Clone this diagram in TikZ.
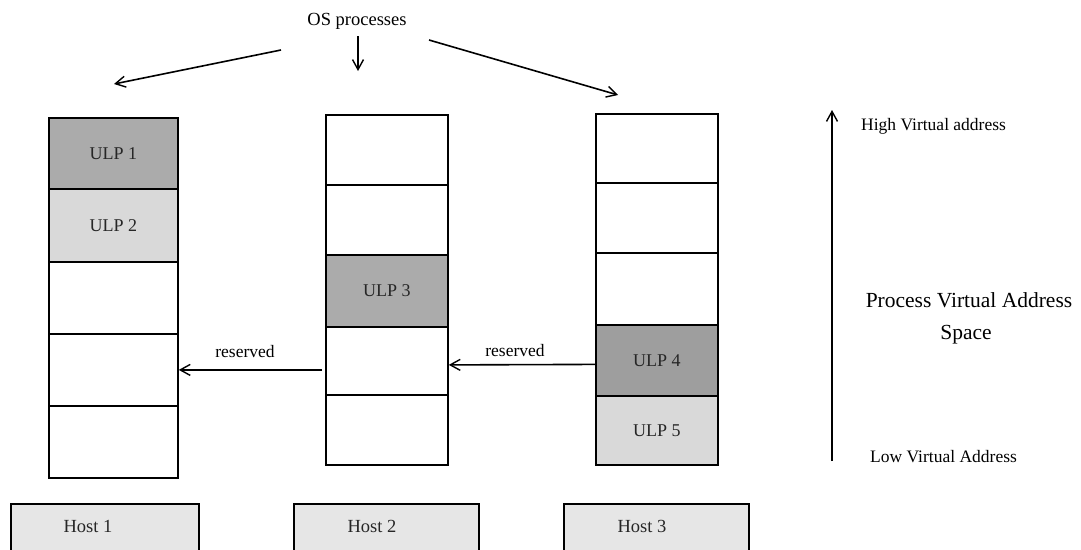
\documentclass[tikz,border=0pt]{standalone}
\usepackage{fontspec}
\setmainfont{Liberation Serif}
\usetikzlibrary{arrows.meta}
\definecolor{ulpdark}{HTML}{ABABAB}
\definecolor{ulpdarker}{HTML}{9E9E9E}
\definecolor{ulplight}{HTML}{D9D9D9}
\definecolor{hostfill}{HTML}{E6E6E6}
\tikzset{
  cellbox/.style={draw=black, line width=1.8pt, inner sep=0pt, anchor=north west,
    font=\fontsize{18}{20}\selectfont, text=black!85},
  hostbox/.style={draw=black, line width=1.8pt, fill=hostfill, inner sep=0pt, anchor=north west},
  lbl/.style={font=\fontsize{17.5}{19}\selectfont, inner sep=0pt},
  arr/.style={line width=1.6pt, -{Straight Barb[length=10pt,width=11pt,line width=1.4pt]}},
}
\begin{document}
\begin{tikzpicture}[x=1pt,y=-1pt]
\useasboundingbox (0,0) rectangle (1081,549);
\begin{scope}
\clip (0,0) rectangle (1081,549);
% column 1 (x 48-177, width 129)
\node[cellbox, fill=ulpdark, minimum width=129pt, minimum height=71pt] (c1a) at (48,117) {ULP 1};
\node[cellbox, fill=ulplight, minimum width=129pt, minimum height=73pt] (c1b) at (48,188) {ULP 2};
\node[cellbox, minimum width=129pt, minimum height=72pt] (c1c) at (48,261) {};
\node[cellbox, minimum width=129pt, minimum height=72pt] (c1d) at (48,333) {};
\node[cellbox, minimum width=129pt, minimum height=72pt] (c1e) at (48,405) {};
% column 2 (x 325-447, width 122)
\node[cellbox, minimum width=122pt, minimum height=70pt] (c2a) at (325,114) {};
\node[cellbox, minimum width=122pt, minimum height=70pt] (c2b) at (325,184) {};
\node[cellbox, fill=ulpdark, minimum width=122pt, minimum height=72pt] (c2c) at (325,254) {ULP 3};
\node[cellbox, minimum width=122pt, minimum height=68pt] (c2d) at (325,326) {};
\node[cellbox, minimum width=122pt, minimum height=70pt] (c2e) at (325,394) {};
% column 3 (x 595-717, width 122)
\node[cellbox, minimum width=122pt, minimum height=69pt] (c3a) at (595,113) {};
\node[cellbox, minimum width=122pt, minimum height=70pt] (c3b) at (595,182) {};
\node[cellbox, minimum width=122pt, minimum height=72pt] (c3c) at (595,252) {};
\node[cellbox, fill=ulpdarker, minimum width=122pt, minimum height=71pt] (c3d) at (595,324) {ULP 4};
\node[cellbox, fill=ulplight, minimum width=122pt, minimum height=69pt] (c3e) at (595,395) {ULP 5};
% hosts (bottoms cut off by page edge)
\node[hostbox, minimum width=188pt, minimum height=60pt] (h1) at (10,503) {};
\node[hostbox, minimum width=185pt, minimum height=60pt] (h2) at (293,503) {};
\node[hostbox, minimum width=185pt, minimum height=60pt] (h3) at (563,503) {};
\end{scope}
\node[lbl, font=\fontsize{18.5}{20}\selectfont, text=black!85] (h1t) at (88,526) {Host 1};
\node[lbl, font=\fontsize{18.5}{20}\selectfont, text=black!85] (h2t) at (372,526) {Host 2};
\node[lbl, font=\fontsize{18.5}{20}\selectfont, text=black!85] (h3t) at (642,526) {Host 3};
% OS processes
\node[lbl, font=\fontsize{18.5}{20}\selectfont] (os) at (357,21) {OS processes};
\coordinate (osl) at (281,50);
\coordinate (osm) at (358,36);
\coordinate (osr) at (429,40);
\coordinate (t1) at (114,84);
\coordinate (t2) at (358,71);
\coordinate (t3) at (618,95);
\draw[arr] (osl) -- (t1);
\draw[arr] (osm) -- (t2);
\draw[arr] (osr) -- (t3);
% reserved arrows
\draw[arr] ([xshift=-3pt]c2d.west |- c1d.east) -- (c1d.east);
\node[lbl] (rs1) at (245,352) {reserved};
\draw[arr] ([yshift=-4pt]c3d.west) -- ([yshift=-4pt]c2d.east);
\node[lbl] (rs2) at (515,351) {reserved};
% address axis
\coordinate (lo) at (832,461);
\coordinate (hi) at (832,110);
\draw[arr] (lo) -- (hi);
\node[lbl, anchor=west] (high) at (861,126) {High Virtual address};
\node[lbl, font=\fontsize{21.5}{23}\selectfont] (pvas) at (969,300) {Process Virtual Address};
\node[lbl, font=\fontsize{21.5}{23}\selectfont] (space) at (966,335) {Space};
\node[lbl, anchor=west] (low) at (870,457) {Low Virtual Address};
\end{tikzpicture}
\end{document}
